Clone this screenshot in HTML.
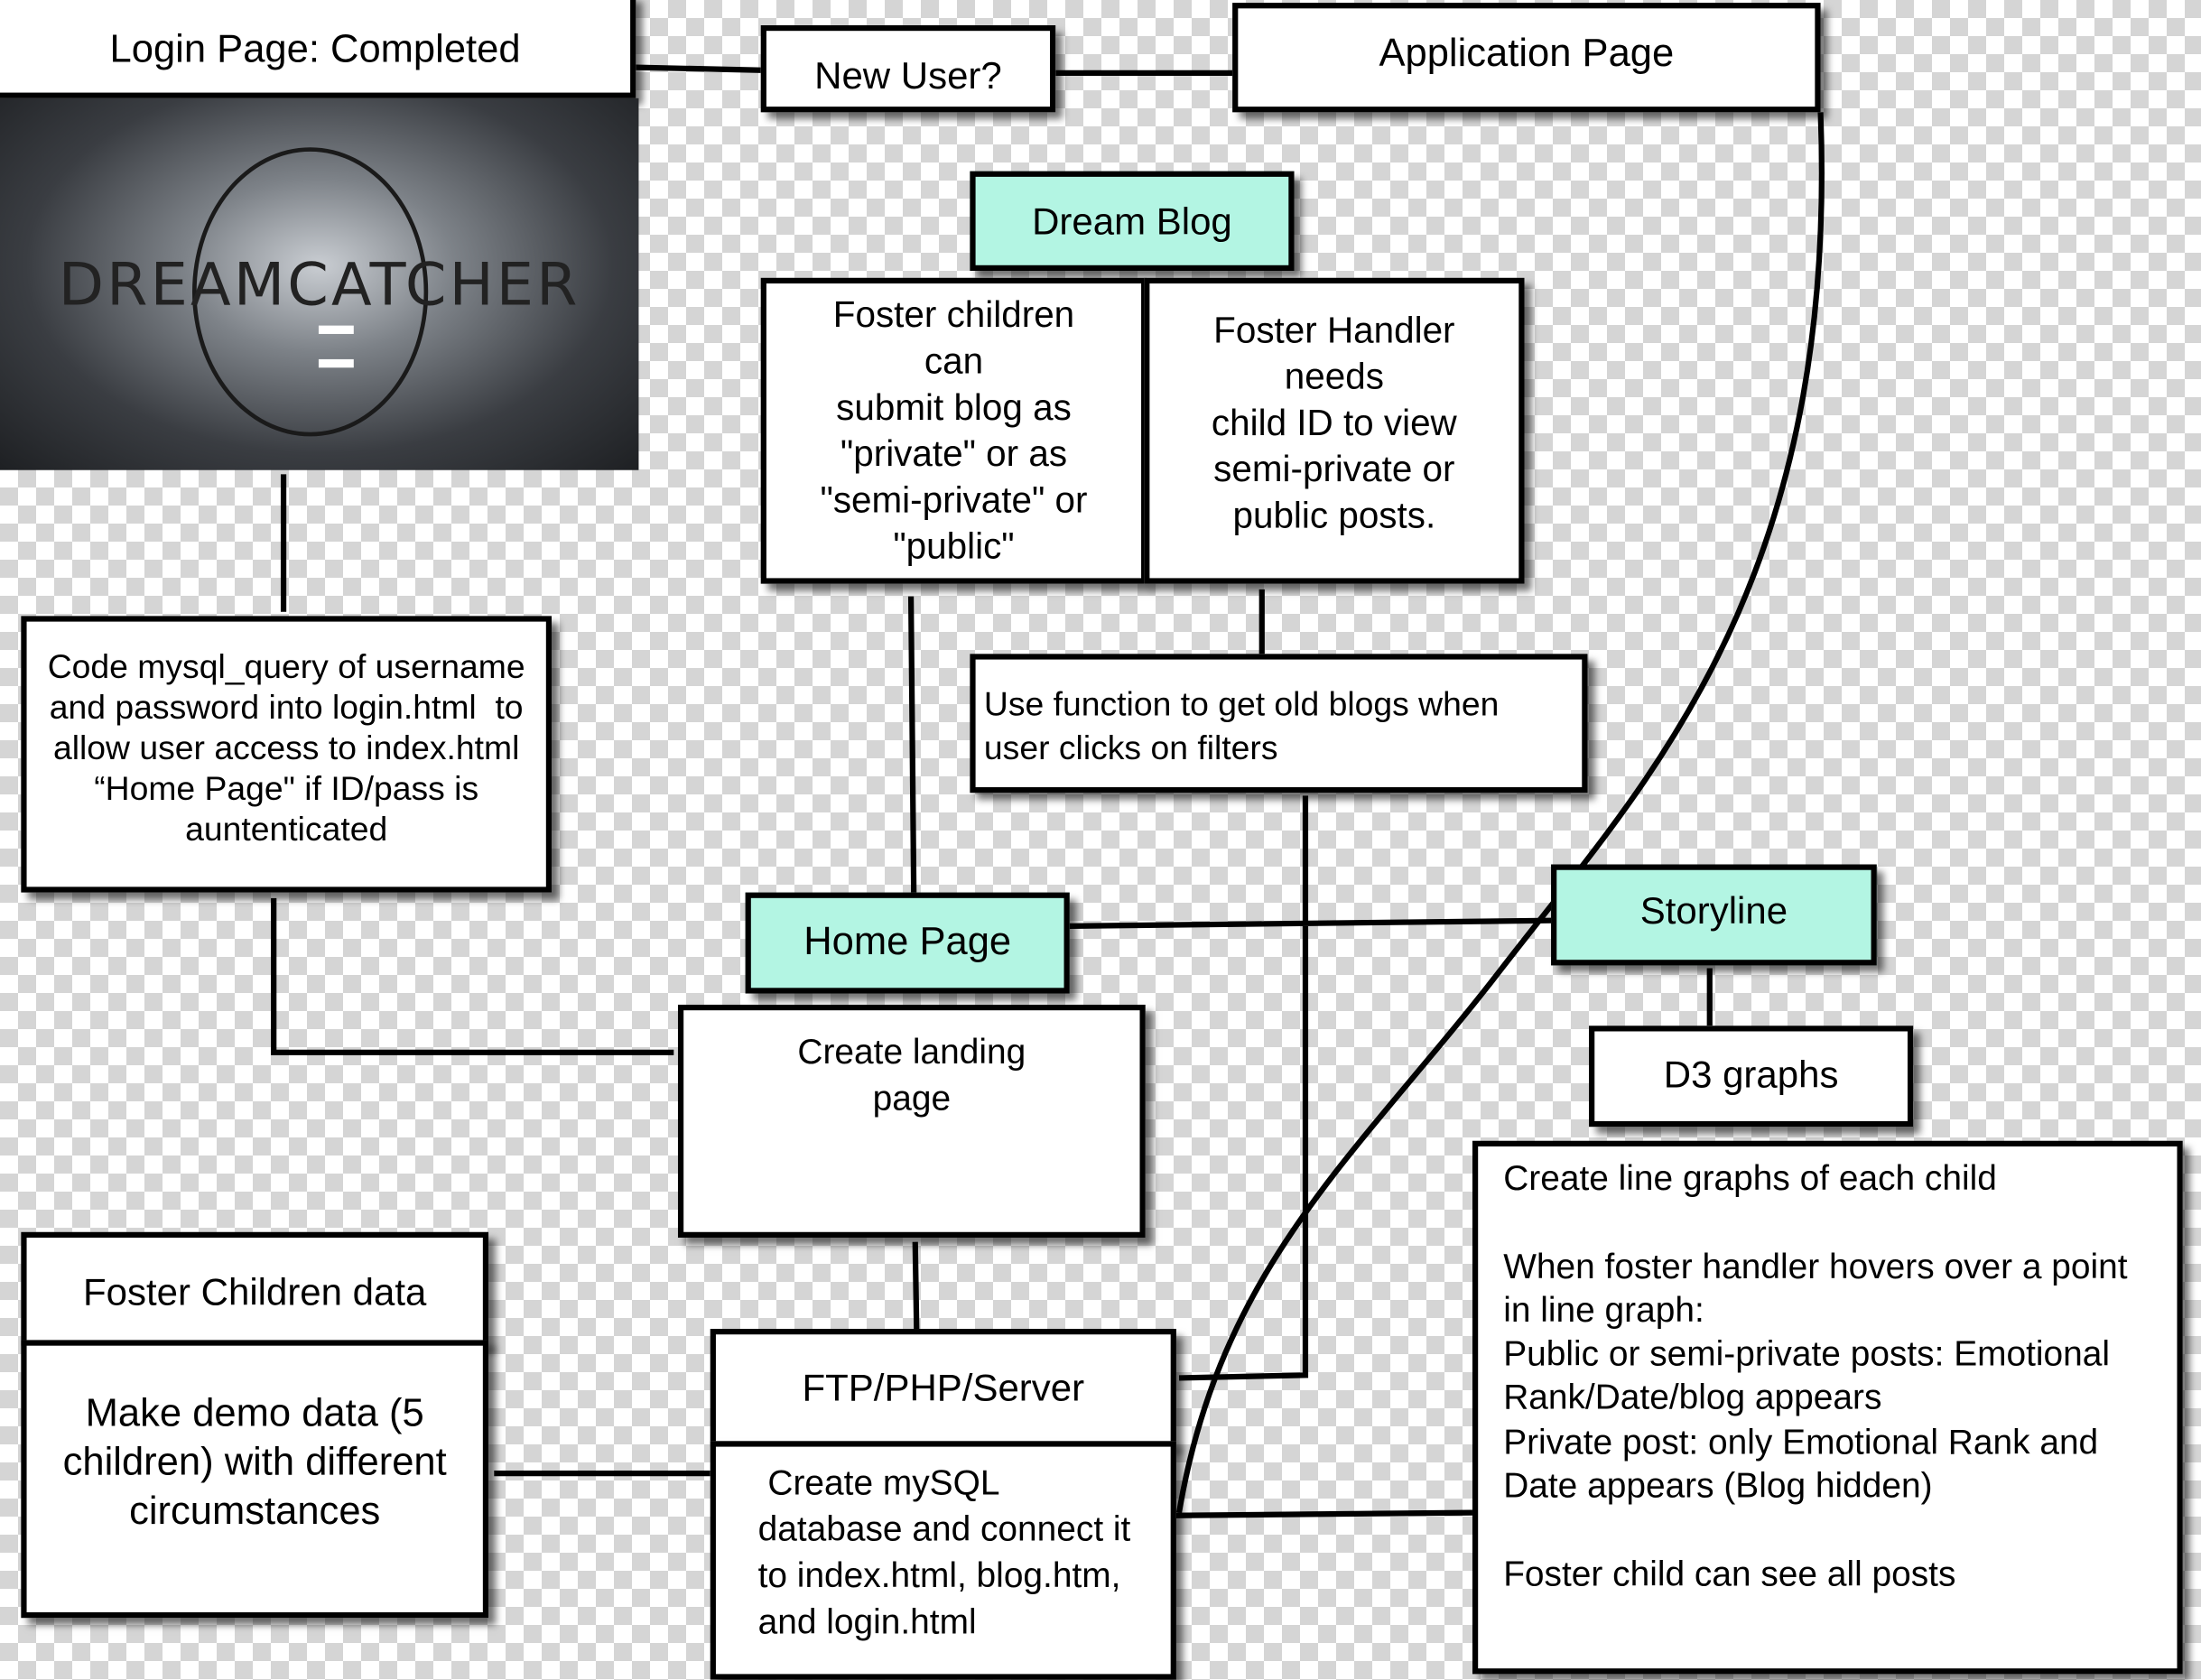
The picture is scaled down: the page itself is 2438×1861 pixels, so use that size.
<!DOCTYPE html>
<html><head><meta charset="utf-8"><style>
html,body{margin:0;padding:0;}
body{width:2438px;height:1842px;overflow:hidden;position:relative;
background-color:#fff;
background-image:linear-gradient(45deg,#d5d5d5 25%,transparent 25%,transparent 75%,#d5d5d5 75%),linear-gradient(45deg,#d5d5d5 25%,transparent 25%,transparent 75%,#d5d5d5 75%);
background-size:40px 40px;background-position:0 0,20px 20px;
font-family:"Liberation Sans",sans-serif;}
#s{position:absolute;left:0;top:0;width:1568px;height:1185px;transform:scale(1.5548,1.5544);transform-origin:0 0;}
.b{position:absolute;box-sizing:border-box;border:4px solid #000;background:#fff;box-shadow:5px 5px 5px rgba(0,0,0,.55);color:#000;text-align:center;font-size:25px;line-height:33px;}
.t{background:#b3f5e3;}
svg{position:absolute;left:0;top:0;}
</style></head><body><div id="s">
<svg width="1568" height="1185" viewBox="0 0 1568 1185" fill="none" stroke="#000" stroke-width="4">
<path d="M453 48L542 50M752 52L878 52M202 338L202 436M195 640L195 750L480 750M649 425L651 636M899 420L899 466M930 567L930 980L840 982M762 660L1105 656M1218 690L1218 731M652 885L653 947M352 1050L506 1050M838 1080L1049 1078"/>
<path d="M1297 80C1310 420 1170 560 1070 690S870 900 840 1078"/>
</svg>
<div class="b" style="left:-4px;top:-4px;width:457px;height:74px;line-height:70px;font-size:28px;">Login Page: Completed</div>
<div style="position:absolute;left:0;top:70px;width:455px;height:265px;background:radial-gradient(ellipse at 50% 45%,#c9cdd2 0%,#7d8288 30%,#3a3d42 65%,#1e2023 100%);overflow:hidden;">
<div style="position:absolute;left:137px;top:35px;width:162px;height:200px;border:3px solid #1a1a1a;border-radius:50%;"></div>
<div style="position:absolute;left:0;top:108px;width:455px;text-align:center;font-size:42px;letter-spacing:2px;color:#222;font-family:'DejaVu Sans',sans-serif;">DREAMCATCHER</div>
<div style="position:absolute;left:227px;top:162px;width:25px;height:6px;background:#fff"></div>
<div style="position:absolute;left:227px;top:186px;width:25px;height:6px;background:#fff"></div>
</div>
<div class="b" style="left:542px;top:18px;width:210px;height:62px;line-height:64px;font-size:27px;">New User?</div>
<div class="b" style="left:878px;top:2px;width:419px;height:78px;line-height:64px;font-size:28px;">Application Page</div>
<div class="b t" style="left:691px;top:122px;width:231px;height:71px;line-height:64px;font-size:27px;">Dream Blog</div>
<div class="b" style="left:542px;top:198px;width:275px;height:218px;padding-top:6px;font-size:26px;">Foster children<br>can<br>submit blog as<br>"private" or as<br>"semi-private" or<br>"public"</div>
<div class="b" style="left:815px;top:198px;width:271px;height:218px;padding-top:17px;font-size:26px;">Foster Handler<br>needs<br>child ID to view<br>semi-private or<br>public posts.</div>
<div class="b" style="left:691px;top:466px;width:440px;height:99px;text-align:left;padding:17px 0 0 6px;font-size:24px;line-height:31px;">Use function to get old blogs when<br>user clicks on filters</div>
<div class="b" style="left:15px;top:439px;width:378px;height:197px;padding-top:18px;font-size:24px;line-height:29px;">Code mysql_query of username<br>and password into login.html&nbsp; to<br>allow user access to index.html<br>“Home Page" if ID/pass is<br>auntenticated</div>
<div class="b t" style="left:531px;top:636px;width:231px;height:72px;line-height:62px;font-size:28px;">Home Page</div>
<div class="b" style="left:483px;top:716px;width:333px;height:166px;padding-top:14px;">Create landing<br>page</div>
<div class="b t" style="left:1105px;top:616px;width:232px;height:72px;line-height:58px;font-size:27px;">Storyline</div>
<div class="b" style="left:1132px;top:731px;width:231px;height:72px;line-height:62px;font-size:27px;">D3 graphs</div>
<div class="b" style="left:1049px;top:813px;width:506px;height:380px;text-align:left;padding:8px 0 0 18px;line-height:31.3px;">Create line graphs of each child<br><br>When foster handler hovers over a point<br>in line graph:<br>Public or semi-private posts: Emotional<br>Rank/Date/blog appears<br>Private post: only Emotional Rank and<br>Date appears (Blog hidden)<br><br>Foster child can see all posts</div>
<div class="b" style="left:15px;top:878px;width:333px;height:81px;line-height:78px;font-size:27px;">Foster Children data</div>
<div class="b" style="left:15px;top:955px;width:333px;height:198px;padding-top:30px;font-size:28px;line-height:35px;">Make demo data (5<br>children) with different<br>circumstances</div>
<div class="b" style="left:506px;top:947px;width:332px;height:84px;line-height:76px;font-size:27px;">FTP/PHP/Server</div>
<div class="b" style="left:506px;top:1027px;width:332px;height:170px;text-align:left;padding:10px 0 0 30px;">&nbsp;Create mySQL<br>database and connect it<br>to index.html, blog.htm,<br>and login.html</div>
</div></body></html>
